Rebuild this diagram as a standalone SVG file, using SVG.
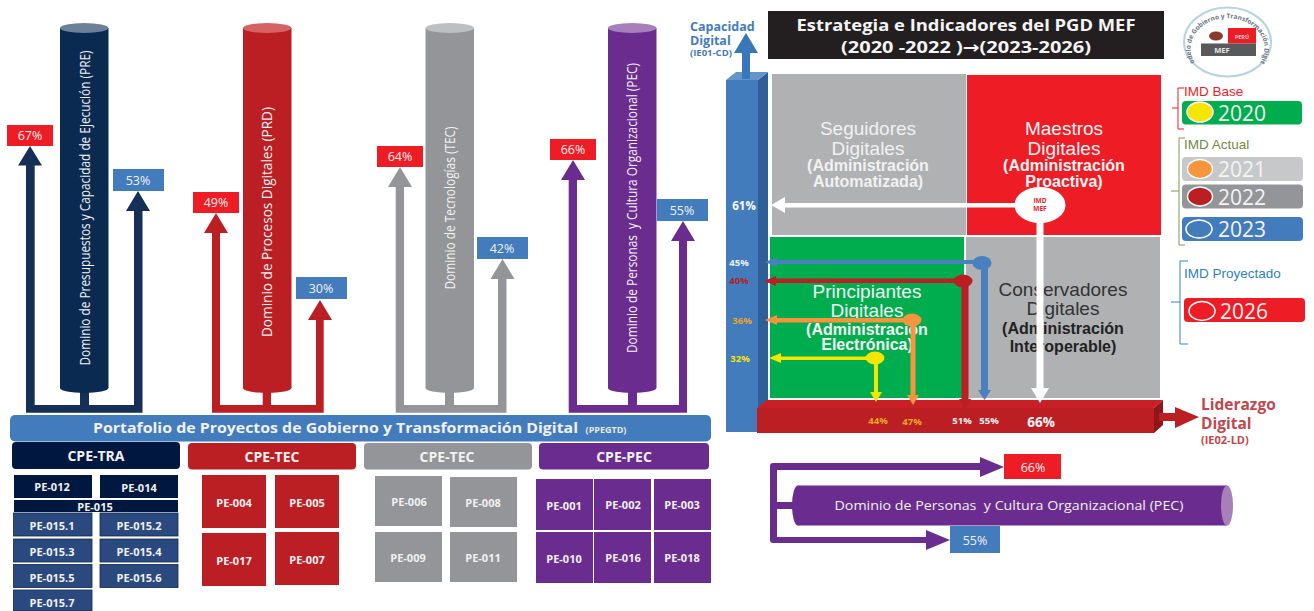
<svg xmlns="http://www.w3.org/2000/svg" xmlns:xlink="http://www.w3.org/1999/xlink" width="1314" height="611" viewBox="0 0 1314 611">
<style>
text{font-family:"Open Sans","DejaVu Sans",sans-serif;white-space:pre}
.c{text-anchor:middle}
.w{fill:#fff}
.b{font-weight:700}
.pct{font-size:12.500px;fill:#f1f1f1;text-anchor:middle;dominant-baseline:central}
.pe{font-size:11px;font-weight:700;fill:#f1f1f1;text-anchor:middle;dominant-baseline:central}
.cpe{font-size:14px;font-weight:700;fill:#f1f1f1;text-anchor:middle;dominant-baseline:central}
.cyl{font-size:14px;fill:#f1f1f1;text-anchor:middle}
.q{font-family:"Liberation Sans",Arial,sans-serif;font-size:19px;text-anchor:middle}
.qb{font-family:"Liberation Sans",Arial,sans-serif;font-size:16px;font-weight:700;text-anchor:middle}
.yr{font-size:21px;fill:#f4f4f4}
.lg{font-family:"Liberation Sans",Arial,sans-serif;font-size:13.500px}
.sm{font-size:9.500px;font-weight:700;text-anchor:middle;dominant-baseline:central}
.red{fill:#ee1c25}.blue{fill:#437cbd}.navy{fill:#152f57}.dred{fill:#bb1f24}.grey{fill:#939598}.pur{fill:#6b2c8f}
.nv{fill:#00183f}.pb{fill:#2a4a7f;stroke:#0f2750;stroke-width:.8}
.dot{stroke:#fff;stroke-width:1.500}
</style>
<rect width="1314" height="611" fill="#fff"/>

<g id="connectors">
<path class="navy" d="M26 165.500V412.700H142.500V211H150L138 191 126 211H134V405H89V380H80V405H34.700V165.500H42L30 146 18 165.500Z"/>
<path class="dred" d="M212 233V412.700H323.700V320H332L320 300 308 320H316V405H271V380H262.700V405H220V233H228L216 213 204 233Z"/>
<path class="grey" d="M395.700 187V412.700H506.500V279H514.500L502.500 259 490.500 279H498V405H454V380H445V405H404V187H412L400 167 388 187Z"/>
<path class="pur" d="M568.700 180V412.700H687V241H695L683 221 671 241H679V405H637V380H628V405H577V180H585L573 160 561 180Z"/>
<path class="pur" d="M770 466Q770 463 773 463H980V457L1004 467 980 477V470H777V502H793V509H777V537H926V530L950 540 926 550V543H773Q770 543 770 540Z"/>
</g>

<g id="cyl-pre"><rect x="60" y="28" width="48.500" height="360" fill="#0b2a52"/><ellipse cx="84.200" cy="388" rx="24.200" ry="5" fill="#0b2a52"/><ellipse cx="84.200" cy="28" rx="24.200" ry="5" fill="#6d809a"/>
<text class="cyl" transform="translate(90 208) rotate(-90)" textLength="315" lengthAdjust="spacingAndGlyphs">Dominio de Presupuestos y Capacidad de Ejecución (PRE)</text></g>
<g id="cyl-prd"><rect x="243" y="28" width="48.500" height="360" class="dred"/><ellipse cx="267.200" cy="388" rx="24.200" ry="5" class="dred"/><ellipse cx="267.200" cy="28" rx="24.200" ry="5" fill="#d66266"/>
<text class="cyl" transform="translate(272 222) rotate(-90)" textLength="230" lengthAdjust="spacingAndGlyphs">Dominio de Procesos Digitales (PRD)</text></g>
<g id="cyl-tec"><rect x="425.500" y="28" width="48.500" height="360" class="grey"/><ellipse cx="449.700" cy="388" rx="24.200" ry="5" class="grey"/><ellipse cx="449.700" cy="28" rx="24.200" ry="5" fill="#bebfc1"/>
<text class="cyl" transform="translate(455 208) rotate(-90)" textLength="163" lengthAdjust="spacingAndGlyphs">Dominio de Tecnologías (TEC)</text></g>
<g id="cyl-pec"><rect x="608" y="28" width="48.500" height="360" class="pur"/><ellipse cx="632.200" cy="388" rx="24.200" ry="5" class="pur"/><ellipse cx="632.200" cy="28" rx="24.200" ry="5" fill="#a67fbb"/>
<text class="cyl" transform="translate(637 208) rotate(-90)" textLength="290" lengthAdjust="spacingAndGlyphs">Dominio de Personas  y Cultura Organizacional (PEC)</text></g>

<g id="v-67"><rect x="7" y="125" width="46" height="21" class="red"/><text x="30" y="135.500" class="pct">67%</text></g>
<g id="v-53"><rect x="113" y="169" width="51" height="22" class="blue"/><text x="138" y="180" class="pct">53%</text></g>
<g id="v-49"><rect x="193" y="192" width="46" height="21" class="red"/><text x="216" y="202.500" class="pct">49%</text></g>
<g id="v-30"><rect x="296" y="277" width="51" height="22" class="blue"/><text x="321" y="288" class="pct">30%</text></g>
<g id="v-64"><rect x="377" y="146" width="46" height="21" class="red"/><text x="400" y="156.500" class="pct">64%</text></g>
<g id="v-42"><rect x="477" y="237" width="51" height="22" class="blue"/><text x="502" y="248" class="pct">42%</text></g>
<g id="v-66"><rect x="550" y="139" width="46" height="21" class="red"/><text x="573" y="149.500" class="pct">66%</text></g>
<g id="v-55"><rect x="657" y="199" width="51" height="22" class="blue"/><text x="682" y="210" class="pct">55%</text></g>

<g id="portfolio"><rect x="10" y="415" width="701" height="26.500" rx="5" class="blue"/>
<text x="335.500" y="433" class="c b" font-size="15" fill="#f1f1f1" textLength="485" lengthAdjust="spacingAndGlyphs">Portafolio de Proyectos de Gobierno y Transformación Digital</text><text x="606" y="433" class="c b" font-size="9" fill="#e8e8e8">(PPEGTD)</text></g>

<g id="cpe-tra"><rect x="12" y="442" width="168" height="27" rx="4" class="nv"/><text x="96" y="455.500" class="cpe">CPE-TRA</text></g>
<g id="cpe-tec1"><rect x="188" y="443" width="168" height="26.500" rx="4" class="dred"/><text x="272" y="456.500" class="cpe">CPE-TEC</text></g>
<g id="cpe-tec2"><rect x="364" y="443" width="168" height="26.500" rx="4" class="grey"/><text x="447" y="456.500" class="cpe">CPE-TEC</text></g>
<g id="cpe-pec"><rect x="539" y="443" width="170" height="26.500" rx="4" class="pur"/><text x="624" y="456.500" class="cpe">CPE-PEC</text></g>

<g id="pe-012"><rect x="14" y="475" width="78" height="23" class="nv"/><text x="52" y="486" class="pe">PE-012</text></g>
<g id="pe-014"><rect x="100" y="475" width="78" height="23" class="nv"/><text x="139" y="487" class="pe">PE-014</text></g>
<g id="pe-015"><rect x="14" y="500" width="164" height="12" class="nv"/><text x="95" y="506" class="pe">PE-015</text></g>
<g id="pe-015-1"><rect x="13.500" y="513" width="78.500" height="23" class="pb"/><text x="52" y="525" class="pe">PE-015.1</text></g>
<g id="pe-015-2"><rect x="100" y="513" width="78" height="23" class="pb"/><text x="139" y="525" class="pe">PE-015.2</text></g>
<g id="pe-015-3"><rect x="13.500" y="539" width="78.500" height="23" class="pb"/><text x="52" y="551" class="pe">PE-015.3</text></g>
<g id="pe-015-4"><rect x="100" y="539" width="78" height="23" class="pb"/><text x="139" y="551" class="pe">PE-015.4</text></g>
<g id="pe-015-5"><rect x="13.500" y="564.500" width="78.500" height="23" class="pb"/><text x="52" y="577" class="pe">PE-015.5</text></g>
<g id="pe-015-6"><rect x="100" y="564.500" width="78" height="23" class="pb"/><text x="139" y="577" class="pe">PE-015.6</text></g>
<g id="pe-015-7"><rect x="13.500" y="590" width="78.500" height="21" class="pb"/><text x="52" y="602" class="pe">PE-015.7</text></g>

<g id="pe-004"><rect x="202" y="475" width="64" height="53" class="dred"/><text x="234" y="502" class="pe">PE-004</text></g>
<g id="pe-005"><rect x="275" y="475" width="64" height="53" class="dred"/><text x="307" y="502" class="pe">PE-005</text></g>
<g id="pe-017"><rect x="202" y="533" width="64" height="53" class="dred"/><text x="234" y="560" class="pe">PE-017</text></g>
<g id="pe-007"><rect x="275" y="532" width="64" height="53" class="dred"/><text x="307" y="559" class="pe">PE-007</text></g>

<g id="pe-006"><rect x="375" y="476" width="67" height="50" class="grey"/><text x="409" y="501" class="pe">PE-006</text></g>
<g id="pe-008"><rect x="450" y="477" width="67" height="50" class="grey"/><text x="483" y="502" class="pe">PE-008</text></g>
<g id="pe-009"><rect x="375" y="532" width="67" height="50" class="grey"/><text x="408" y="557" class="pe">PE-009</text></g>
<g id="pe-011"><rect x="450" y="532" width="67" height="50" class="grey"/><text x="483" y="557" class="pe">PE-011</text></g>

<g id="pe-001"><rect x="536" y="479" width="57" height="51" class="pur"/><text x="564" y="505" class="pe">PE-001</text></g>
<g id="pe-002"><rect x="594" y="479" width="57" height="51" class="pur"/><text x="623" y="504" class="pe">PE-002</text></g>
<g id="pe-003"><rect x="654" y="479" width="57" height="51" class="pur"/><text x="682" y="504" class="pe">PE-003</text></g>
<g id="pe-010"><rect x="536" y="532" width="57" height="51" class="pur"/><text x="564" y="558" class="pe">PE-010</text></g>
<g id="pe-016"><rect x="594" y="532" width="57" height="51" class="pur"/><text x="623" y="557" class="pe">PE-016</text></g>
<g id="pe-018"><rect x="654" y="532" width="57" height="51" class="pur"/><text x="682" y="557" class="pe">PE-018</text></g>

<g id="title"><rect x="768" y="11" width="396" height="48" fill="#231f20"/>
<text x="966" y="31" class="c b" font-size="16.500" fill="#f4f4f4" textLength="339" lengthAdjust="spacingAndGlyphs">Estrategia e Indicadores del PGD MEF</text>
<text x="966" y="53" class="c b" font-size="16.500" fill="#f4f4f4" textLength="250" lengthAdjust="spacingAndGlyphs">(2020 -2022 )→(2023-2026)</text></g>

<g id="capacidad"><text x="690" y="31" class="b blue" font-size="12.500">Capacidad</text><text x="690" y="45" class="b blue" font-size="12.500">Digital</text><text x="690" y="56" class="b blue" font-size="9.500">(IE01-CD)</text>
<path fill="#2f5f97" d="M758 80 768 72V400L758 408Z"/><path fill="#6594cc" d="M726 80 736 72H768L758 80Z"/><rect x="726" y="80" width="32" height="352" class="blue"/>
<path fill="#3877b8" d="M742 79V53H734L746 33 758 53H750V79Z"/></g>

<g id="q-seguidores"><rect x="772" y="74" width="194" height="161" fill="#b0b1b3"/>
<text x="868" y="135" class="q" fill="#f1f1f1">Seguidores</text><text x="868" y="155" class="q" fill="#f1f1f1">Digitales</text><text x="868" y="171" class="qb" fill="#f1f1f1">(Administración</text><text x="868" y="187" class="qb" fill="#f1f1f1">Automatizada)</text></g>
<g id="q-maestros"><rect x="967" y="75" width="194" height="160" fill="#ee1c25"/>
<text x="1064" y="135" class="q" fill="#f4f4f4">Maestros</text><text x="1064" y="155" class="q" fill="#f4f4f4">Digitales</text><text x="1064" y="171" class="qb" fill="#f4f4f4">(Administración</text><text x="1064" y="187" class="qb" fill="#f4f4f4">Proactiva)</text></g>
<g id="q-principiantes"><rect x="770" y="237" width="194" height="161" fill="#00ad4e"/>
<text x="867" y="298" class="q" fill="#f4f4f4">Principiantes</text><text x="867" y="317" class="q" fill="#f4f4f4">Digitales</text><text x="867" y="335" class="qb" fill="#f4f4f4">(Administración</text><text x="867" y="350" class="qb" fill="#f4f4f4">Electrónica)</text></g>
<g id="q-conservadores"><rect x="966" y="237" width="194" height="161" fill="#b0b1b3"/>
<text x="1063" y="296" class="q" fill="#333">Conservadores</text><text x="1063" y="315" class="q" fill="#333">Digitales</text><text x="1063" y="334" class="qb" fill="#222">(Administración</text><text x="1063" y="352" class="qb" fill="#222">Interoperable)</text></g>

<g id="liderazgo"><path fill="#c92027" d="M757 408 767 400H1163L1154 408Z"/><rect x="757" y="408" width="397" height="25" class="dred"/><path fill="#8f1519" d="M1154 408 1163 400V425L1154 433Z"/>
<path class="dred" d="M1159 413H1175V407L1199 417 1175 428V421H1159Z"/>
<text x="1201" y="410" class="b" font-size="15.500" fill="#c0474b">Liderazgo</text><text x="1201" y="429" class="b" font-size="15.500" fill="#c0474b">Digital</text><text x="1201" y="444" class="b" font-size="11" fill="#c0474b">(IE02-LD)</text></g>

<g id="indicator-arrows">
<path fill="#4a80bf" d="M982 260H777V257.500L765 262 777 267V264H981V390H978L984.500 400 991 390H988V263H982Z"/><ellipse cx="982" cy="263" rx="9.500" ry="7" fill="#4a80bf"/>
<path class="dred" d="M963 278.500H776V276L764 281 776 286V283H961.500V399H959L965 410 971 399H968.500V282H963Z"/><ellipse cx="963" cy="281" rx="9.500" ry="6.500" class="dred"/>
<path fill="#f7943c" d="M912 318H777V315L765 320 777 325V322.500H910.500V395H907L913 405 919 395H915.500V322H912Z"/><ellipse cx="912" cy="320" rx="9.500" ry="6.500" fill="#f7943c"/>
<path fill="#f5e600" d="M875 356.500H781V353L769 358 781 363V360H874V392H870L876 402 882 392H878V358H875Z"/><ellipse cx="875" cy="358" rx="9.500" ry="6.500" fill="#f5e600"/>
<path class="w" d="M1020 203H785V197L771 205 785 213V207.500H1020ZM1036.500 215V388H1031L1040 403 1049 388H1043.500V215Z"/>
</g>
<g id="imd-mef"><ellipse cx="1040" cy="205" rx="25.500" ry="18" fill="#fff"/><text x="1040" y="203" class="c b" font-size="6.500" fill="#ee1c25">IMD</text><text x="1040" y="211" class="c b" font-size="6.500" fill="#ee1c25">MEF</text></g>

<g id="pcts-cd"><text x="744" y="205" class="sm w" style="font-size:11.500px">61%</text><text x="739" y="262" class="sm" fill="#f1f1f1">45%</text><text x="739" y="280" class="sm" fill="#b52024">40%</text><text x="742" y="320" class="sm" fill="#e9a527">36%</text><text x="740" y="358" class="sm" fill="#f5e600">32%</text></g>
<g id="pcts-ld"><text x="878" y="420" class="sm" fill="#eaa820">44%</text><text x="912" y="421" class="sm" fill="#eaa820">47%</text><text x="962" y="420" class="sm" fill="#f1f1f1">51%</text><text x="989" y="420" class="sm" fill="#f1f1f1">55%</text><text x="1041" y="422" class="sm" fill="#f4f4f4" style="font-size:13.500px">66%</text></g>

<g id="logo"><ellipse cx="1227.500" cy="42" rx="43.500" ry="34.500" fill="#fff" stroke="#b5d3e0" stroke-width="2"/>
<path id="logoArc" d="M1196 64A37 30 0 1 1 1259 64" fill="none"/>
<text font-size="6.500" font-weight="700" fill="#6a7480"><textPath href="#logoArc" xlink:href="#logoArc" startOffset="50%" text-anchor="middle">Modelo de Gobierno y Transformación Digital</textPath></text>
<rect x="1228" y="28" width="28" height="15.500" fill="#ee1c25"/><rect x="1201" y="43.500" width="55" height="12.500" fill="#58595b"/>
<ellipse cx="1216" cy="36" rx="7" ry="4.500" fill="#8b3a2f"/>
<text x="1242" y="38.500" class="c b" font-size="5.500" fill="#f6c9cb">PERÚ</text><text x="1222" y="52.500" class="c b" font-size="7.500" fill="#e6e6e6">MEF</text></g>

<g id="legend-base"><path d="M1184 88H1178V129H1184M1178 108H1172" fill="none" stroke="#ee1c25" stroke-width="1"/><text x="1184" y="96" class="lg" fill="#ee1c25">IMD Base</text>
<rect x="1182" y="101" width="120" height="23.500" rx="4" fill="#00ad4e"/><ellipse cx="1200" cy="112" rx="13" ry="10" fill="#f5e600" class="dot"/><text x="1218" y="120.500" class="yr">2020</text></g>
<g id="legend-actual"><path d="M1185 138H1179V245H1185M1179 191H1171" fill="none" stroke="#7d9a4c" stroke-width="1"/><text x="1184" y="149" class="lg" fill="#6f8a45">IMD Actual</text>
<rect x="1182" y="157" width="121" height="24" rx="4" fill="#c7c8ca"/><ellipse cx="1200" cy="169" rx="12.500" ry="9.500" fill="#f7943c" class="dot"/><text x="1218" y="177" class="yr">2021</text>
<rect x="1182" y="184.500" width="121" height="24" rx="4" fill="#939598"/><ellipse cx="1200" cy="196.500" rx="12.500" ry="9.500" fill="#bb1f24" class="dot"/><text x="1218" y="204.500" class="yr">2022</text>
<rect x="1182" y="217" width="121" height="24" rx="4" fill="#437cbd"/><ellipse cx="1199" cy="229" rx="13" ry="9" fill="#437cbd" class="dot"/><text x="1218" y="237" class="yr">2023</text></g>
<g id="legend-proy"><path d="M1188 261H1180V344H1188M1180 302H1171" fill="none" stroke="#2f84c9" stroke-width="1"/><text x="1184" y="278" class="lg" fill="#2f7fc1">IMD Proyectado</text>
<rect x="1184" y="298" width="121" height="24" rx="4" fill="#ee1c25"/><ellipse cx="1202" cy="311" rx="13" ry="9.500" fill="#ee1c25" class="dot"/><text x="1220" y="319" class="yr">2026</text></g>

<g id="cyl-h-pec"><rect x="798" y="485.500" width="429" height="40" class="pur"/><ellipse cx="798" cy="505.500" rx="6" ry="20" class="pur"/><ellipse cx="1227" cy="505.500" rx="6" ry="20" fill="#a67fbb"/>
<text x="1009" y="510" class="c" font-size="12.500" fill="#f1f1f1" textLength="349" lengthAdjust="spacingAndGlyphs">Dominio de Personas  y Cultura Organizacional (PEC)</text></g>
<g id="h-66"><rect x="1004" y="454" width="57" height="25" class="red"/><text x="1033" y="467" class="pct">66%</text></g>
<g id="h-55"><rect x="950" y="526" width="50" height="27" class="blue"/><text x="975" y="540" class="pct">55%</text></g>
</svg>
